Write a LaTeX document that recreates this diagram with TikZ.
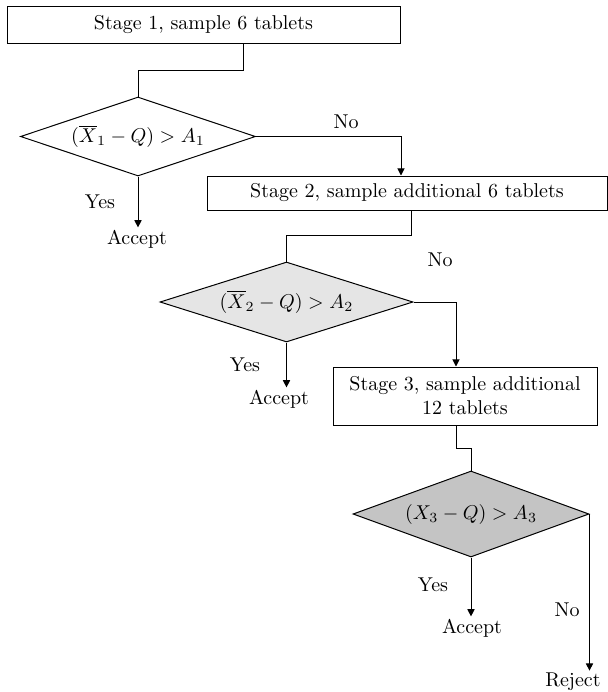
\documentclass[tikz,border=0pt]{standalone}
\usetikzlibrary{arrows.meta,shapes.geometric}

\tikzset{
  stagebox/.style={draw, fill=white, inner sep=2pt, align=center},
  test/.style={draw, diamond, inner sep=0pt},
  lbl/.style={inner sep=1pt}
}

\begin{document}
\begin{tikzpicture}[x=0.5pt, y=-0.5pt, line width=0.5pt,
    >={Triangle[width=3.6pt,length=3.6pt]}]
    \useasboundingbox (0,0) rectangle (608,692);

    % stufe 1
    \node[stagebox, minimum width=196.5pt, minimum height=18.5pt] (s1) at (203.5,24.5) {Stage 1, sample 6 tablets};
    \node[test, aspect=2.97, minimum width=117.5pt, minimum height=39.5pt] (t1) at (138,136.5) {$(\overline{X}_1 - Q) > A_1$};
    \coordinate (k1) at (243,70);
    \draw (s1.south -| k1) -- (k1) -| (t1.north);
    \node[lbl] (yes1) at (100,202) {Yes};
    \node[lbl] (acc1) at (137,239) {Accept};
    \draw[->] (t1.south) -- (t1.south |- acc1.north);
    \node[lbl] (no1) at (346,122) {No};

    % stufe 2
    \node[stagebox, minimum width=200pt, minimum height=17pt] (s2) at (407,193) {Stage 2, sample additional 6 tablets};
    \coordinate (n1) at (401,0);
    \draw[->] (t1.east) -| (s2.north -| n1);
    \node[test, aspect=3.16, fill=black!10, minimum width=126.5pt, minimum height=40pt] (t2) at (286.5,302) {$(\overline{X}_2 - Q) > A_2$};
    \coordinate (k2) at (411,235);
    \draw (s2.south -| k2) -- (k2) -| (t2.north);
    \node[lbl] (yes2) at (245,365) {Yes};
    \node[lbl] (acc2) at (279,399) {Accept};
    \draw[->] (t2.south) -- (t2.south |- acc2.north);
    \node[lbl] (no2) at (440,260) {No};

    % stufe 3
    \node[stagebox, minimum width=132pt, minimum height=29pt] (s3) at (465,396) {Stage 3, sample additional\\12 tablets};
    \coordinate (n2) at (456,0);
    \draw[->] (t2.east) -| (s3.north -| n2);
    \node[test, aspect=2.74, fill=black!23, minimum width=118pt, minimum height=43pt] (t3) at (471,514) {$(X_3 - Q) > A_3$};
    \coordinate (k3) at (456,448);
    \draw (s3.south -| k3) -- (k3) -| (t3.north);
    \node[lbl] (yes3) at (433,585) {Yes};
    \node[lbl] (acc3) at (472,628) {Accept};
    \draw[->] (t3.south) -- (t3.south |- acc3.north);
    \node[lbl] (no3) at (567,610) {No};
    \node[lbl] (rej) at (573,682) {Reject};
    \draw[->] (t3.east) -- (t3.east |- rej.north);
\end{tikzpicture}
\end{document}
